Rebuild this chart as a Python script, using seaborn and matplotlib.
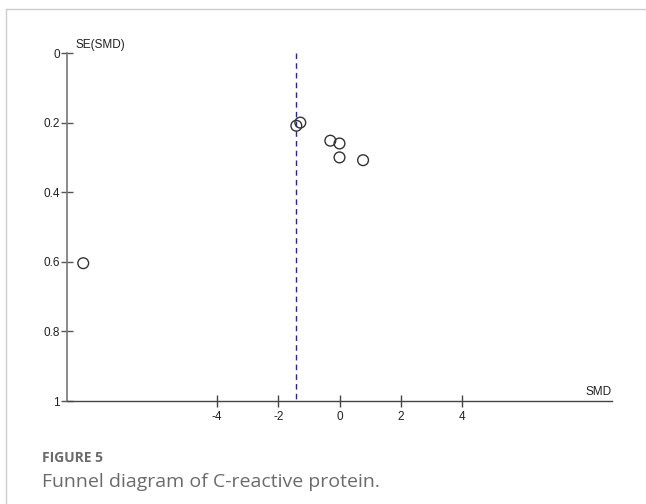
import matplotlib
matplotlib.use("Agg")
import matplotlib.pyplot as plt
from matplotlib.lines import Line2D
import seaborn as sns
import pandas as pd

# Data
smd = [-1.41, -1.28, -0.30, 0.0, 0.0, 0.77, -8.37]
se = [0.209, 0.200, 0.252, 0.260, 0.300, 0.308, 0.604]
pooled_smd = -1.415
x_ticks = [-4, -2, 0, 2, 4]
y_ticks = [0, 0.2, 0.4, 0.6, 0.8, 1]
y_tick_labels = ["0", "0.2", "0.4", "0.6", "0.8", "1"]

df = pd.DataFrame({"SMD": smd, "SE": se})

sns.set_style("white")
plt.rcParams["font.family"] = ["Liberation Sans", "DejaVu Sans"]

fig = plt.figure(figsize=(6.46, 5.04), dpi=100)
W, H = 646, 504
ax = fig.add_axes([67 / W, (H - 401) / H, (612 - 67) / W, 348 / H])

sns.scatterplot(data=df, x="SMD", y="SE", ax=ax, marker="o", s=60,
                facecolor="none", edgecolor="#333333", linewidth=1.0, zorder=3)

ax.plot([pooled_smd, pooled_smd], [0, 1], color="#1f1fd0", linewidth=1.0,
        linestyle=(0, (4, 3)), zorder=2)

ax.set_xlim(-8.9, 8.9)
ax.set_ylim(1, 0)
ax.set_xticks(x_ticks)
ax.set_xticklabels([str(t) for t in x_ticks])
ax.set_yticks(y_ticks)
ax.set_yticklabels(y_tick_labels)
ax.set_xlabel("")
ax.set_ylabel("")

for s in ["top", "right"]:
    ax.spines[s].set_visible(False)
ax.spines["left"].set_color("#777777")
ax.spines["left"].set_linewidth(1.2)
ax.spines["bottom"].set_color("#444444")
ax.spines["bottom"].set_linewidth(1.0)

ax.tick_params(axis="x", bottom=True, direction="inout", length=8, width=1, color="#444444",
               labelsize=8.5, labelcolor="#222222", pad=3)
ax.tick_params(axis="y", left=True, direction="inout", length=8, width=1, color="#555555",
               labelsize=8.5, labelcolor="#222222", pad=1)

ax.text(0.015, 1.005, "SE(SMD)", transform=ax.transAxes, fontsize=8.5,
        color="#222222", ha="left", va="bottom")
ax.text(1.0, 0.01, "SMD", transform=ax.transAxes, fontsize=8.5,
        color="#222222", ha="right", va="bottom")

# Frame lines
fig.add_artist(Line2D([6 / W, 1], [1 - 9 / H, 1 - 9 / H], color="#cccccc", linewidth=1.0))
fig.add_artist(Line2D([6 / W, 6 / W], [0, 1 - 9 / H], color="#cccccc", linewidth=1.0))

# Caption
fig.text(42 / W, 1 - 458 / H, "FIGURE 5", fontsize=10, fontweight="bold",
         color="#6b6b6b", family=["Open Sans", "DejaVu Sans"], va="center")
fig.text(42 / W, 1 - 482 / H, "Funnel diagram of C-reactive protein.", fontsize=14,
         color="#6b6b6b", family=["Open Sans", "DejaVu Sans"], va="center")

fig.savefig("out.png", dpi=100)
